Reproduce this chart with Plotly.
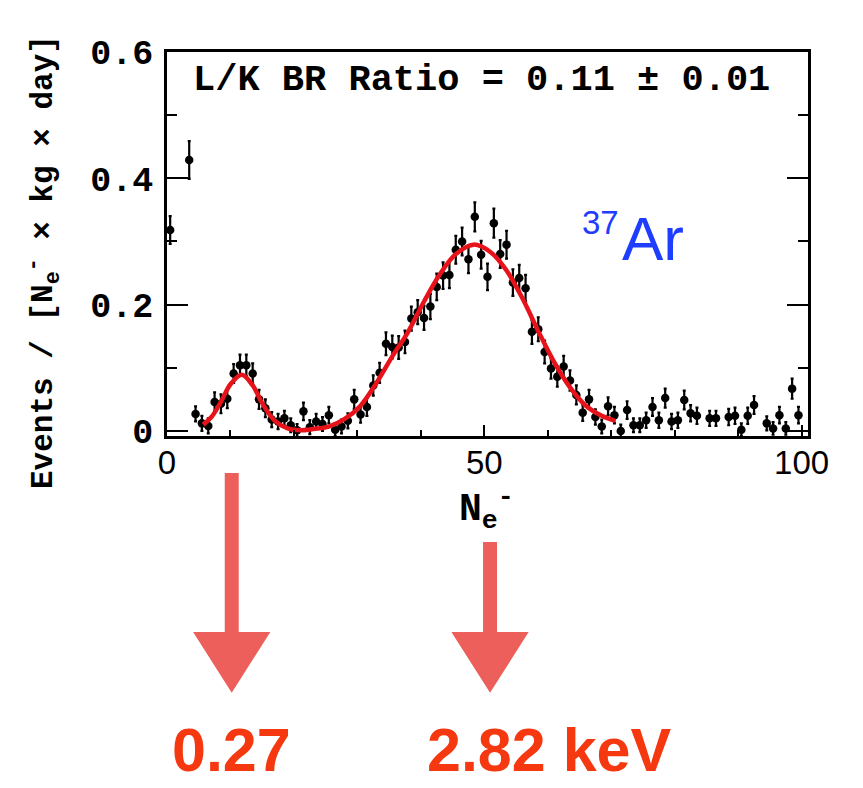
import plotly.graph_objects as go

# ---- measured spectrum: events per N_e- bin ----
ne_bin = [0.5, 3.5, 4.5, 5.5, 6.5, 7.5, 8.5, 9.5, 10.5, 11.5, 12.5, 13.5, 14.5, 15.5,
          16.5, 17.5, 18.5, 19.5, 20.5, 21.5, 22.5, 23.5, 24.5, 25.5, 26.5, 27.5, 28.5,
          29.5, 30.5, 31.5, 32.5, 33.5, 34.5, 35.5, 36.5, 37.5, 38.5, 39.5, 40.5, 41.5,
          42.5, 43.5, 44.5, 45.5, 46.5, 47.5, 48.5, 49.5, 50.5, 51.5, 52.5, 53.5, 54.5,
          55.5, 56.5, 57.5, 58.5, 59.5, 60.5, 61.5, 62.5, 63.5, 64.5, 65.5, 66.5, 67.5,
          68.5, 69.5, 70.5, 71.5, 72.5, 73.5, 74.5, 75.5, 76.5, 77.5, 78.5, 79.5, 80.5,
          81.5, 82.5, 83.5, 85.5, 86.5, 88.5, 89.5, 90.5, 91.5, 92.5, 94.5, 95.5, 96.5,
          97.5, 98.5, 99.5]

rate = [0.318, 0.429, 0.027, 0.012, 0.008, 0.046, 0.043, 0.051, 0.091, 0.104, 0.104, 0.091,
        0.050, 0.036, 0.018, 0.015, 0.020, 0.009, 0.001, 0.031, 0.006, 0.015, 0.011, 0.025,
        0.002, 0.007, 0.016, 0.050, 0.026, 0.038, 0.072, 0.092, 0.138, 0.133, 0.132, 0.141,
        0.178, 0.188, 0.179, 0.197, 0.228, 0.246, 0.247, 0.287, 0.300, 0.272, 0.339, 0.279,
        0.244, 0.329, 0.280, 0.295, 0.235, 0.242, 0.226, 0.157, 0.161, 0.125, 0.099, 0.086,
        0.102, 0.080, 0.057, 0.029, 0.050, 0.022, 0.007, 0.039, 0.025, 0.000, 0.033, 0.009,
        0.009, 0.017, 0.038, 0.017, 0.052, 0.015, 0.017, 0.049, 0.028, 0.024, 0.020, 0.020,
        0.022, 0.024, 0.002, 0.024, 0.041, 0.012, 0.004, 0.025, 0.004, 0.067, 0.025]

rate_err = [0.022, 0.030, 0.012, 0.012, 0.012, 0.015, 0.015, 0.015, 0.015, 0.017, 0.017, 0.016,
            0.015, 0.014, 0.012, 0.012, 0.012, 0.011, 0.010, 0.014, 0.011, 0.012, 0.011, 0.013,
            0.010, 0.011, 0.012, 0.015, 0.013, 0.014, 0.016, 0.016, 0.018, 0.018, 0.018, 0.018,
            0.019, 0.019, 0.019, 0.020, 0.021, 0.021, 0.021, 0.022, 0.022, 0.022, 0.023, 0.022,
            0.021, 0.023, 0.022, 0.022, 0.021, 0.021, 0.021, 0.019, 0.019, 0.018, 0.016, 0.016,
            0.017, 0.016, 0.015, 0.013, 0.015, 0.012, 0.011, 0.014, 0.013, 0.010, 0.014, 0.011,
            0.011, 0.012, 0.014, 0.012, 0.015, 0.012, 0.012, 0.015, 0.013, 0.013, 0.012, 0.012,
            0.013, 0.013, 0.010, 0.013, 0.014, 0.011, 0.010, 0.013, 0.010, 0.016, 0.013]

# ---- L + K shell fit curve ----
fit_ne = [5.7, 7.0, 8.5, 10.0, 11.8, 13.5, 15.0, 17.0, 19.0, 21.0, 23.0, 25.5, 28.0, 30.5,
          33.0, 35.5, 38.0, 40.5, 43.0, 45.5, 48.3, 51.0, 53.5, 56.0, 58.5, 61.0, 63.5,
          66.0, 68.5, 70.6]
fit_rate = [0.010, 0.022, 0.046, 0.074, 0.089, 0.072, 0.044, 0.016, 0.004, 0.001, 0.003,
            0.007, 0.019, 0.040, 0.076, 0.118, 0.157, 0.205, 0.248, 0.280, 0.295, 0.283,
            0.254, 0.210, 0.158, 0.109, 0.069, 0.040, 0.024, 0.016]

# ---- peak markers below the axis ----
peak_ne = [10.2, 50.9]
peak_energy = ["0.27", "2.82 keV"]

W, H = 863, 788
ML, MR, MT, MB = 167, 55, 52, 352
PH = H - MT - MB


def ypaper(py):
    return (H - MB - py) / PH


MONO = "Liberation Mono"
SANS = "Liberation Sans"
ARROW_COLOR = "#ec5f5b"
LABEL_RED = "#f5380f"

fig = go.Figure()

fig.add_trace(go.Scatter(
    x=ne_bin, y=rate, mode="markers",
    marker=dict(color="black", size=8.5),
    error_y=dict(type="data", array=rate_err, color="black", thickness=2.2, width=1.5),
    error_x=dict(type="constant", value=0.5, color="black", thickness=2, width=0),
    showlegend=False,
))

fig.add_trace(go.Scatter(
    x=fit_ne, y=fit_rate, mode="lines",
    line=dict(color="#e8121a", width=4.5, shape="spline", smoothing=1.0),
    showlegend=False,
))

shapes = []
shaft_top = [473, 542]
for xc, top in zip(peak_ne, shaft_top):
    # shaft
    shapes.append(dict(type="rect", xref="x", yref="paper",
                       x0=xc - 1.1, x1=xc + 1.1, y0=ypaper(top), y1=ypaper(640),
                       fillcolor=ARROW_COLOR, line=dict(width=0), layer="above"))
    # head
    path = "M {a},{b} L {c},{b} L {d},{e} Z".format(
        a=xc - 5.8, c=xc + 5.8, b=ypaper(633), d=xc, e=ypaper(691))
    shapes.append(dict(type="path", xref="x", yref="paper", path=path,
                       fillcolor=ARROW_COLOR, line=dict(color=ARROW_COLOR, width=2),
                       layer="above"))

annotations = [
    dict(text="L/K BR Ratio = 0.11 \u00b1 0.01", x=49.6, y=ypaper(80), xref="x", yref="paper",
         showarrow=False, xanchor="center", yanchor="middle",
         font=dict(family=MONO, size=37, color="black", weight="bold")),
    dict(text="37", x=68.3, y=ypaper(222), xref="x", yref="paper", showarrow=False,
         xanchor="center", yanchor="middle",
         font=dict(family=SANS, size=33, color="#1f3dff")),
    dict(text="Ar", x=71.3, y=ypaper(238), xref="x", yref="paper", showarrow=False,
         xanchor="left", yanchor="middle",
         font=dict(family=SANS, size=62, color="#1f3dff")),
    dict(text="Events / [N<sub>e</sub><sup>-</sup> \u00d7 kg \u00d7 day]", textangle=-90,
         x=(43 - ML) / (W - ML - MR), y=ypaper(262), xref="paper", yref="paper",
         showarrow=False, xanchor="center", yanchor="middle",
         font=dict(family=MONO, size=31, color="black", weight="bold")),
    dict(text="N<sub>e</sub><sup>-</sup>", x=50.4, y=ypaper(509), xref="x", yref="paper",
         showarrow=False, xanchor="center", yanchor="middle",
         font=dict(family=MONO, size=38, color="black", weight="bold")),
    dict(text=peak_energy[0], x=peak_ne[0], y=ypaper(750), xref="x", yref="paper",
         showarrow=False, xanchor="center", yanchor="middle",
         font=dict(family=SANS, size=61, color=LABEL_RED, weight="bold")),
    dict(text=peak_energy[1], x=40.6, y=ypaper(750), xref="x", yref="paper",
         showarrow=False, xanchor="left", yanchor="middle",
         font=dict(family=SANS, size=61, color=LABEL_RED, weight="bold")),
]

fig.update_layout(
    width=W, height=H,
    margin=dict(l=ML, r=MR, t=MT, b=MB, pad=0),
    paper_bgcolor="white", plot_bgcolor="white",
    shapes=shapes, annotations=annotations,
    showlegend=False,
)

fig.update_xaxes(
    range=[0, 101], showgrid=False, zeroline=False,
    showline=True, linecolor="black", linewidth=2.5, mirror=True,
    ticks="inside", ticklen=11, tickwidth=2, tickcolor="black",
    tick0=0, dtick=50,
    minor=dict(ticks="inside", ticklen=6, tickwidth=1.5, tickcolor="black", dtick=10, tick0=0),
    tickfont=dict(family=SANS, size=33, color="black"),
    ticklabelstandoff=-4,
)
fig.update_yaxes(
    range=[-0.008, 0.6], showgrid=False, zeroline=False,
    showline=True, linecolor="black", linewidth=2.5, mirror="ticks",
    ticks="inside", ticklen=21, tickwidth=2, tickcolor="black",
    tick0=0, dtick=0.2,
    minor=dict(ticks="inside", ticklen=10, tickwidth=2, tickcolor="black", dtick=0.1, tick0=0),
    tickfont=dict(family=MONO, size=35, color="black", weight="bold"),
    ticklabelstandoff=4,
)

fig.write_html("out.html")
